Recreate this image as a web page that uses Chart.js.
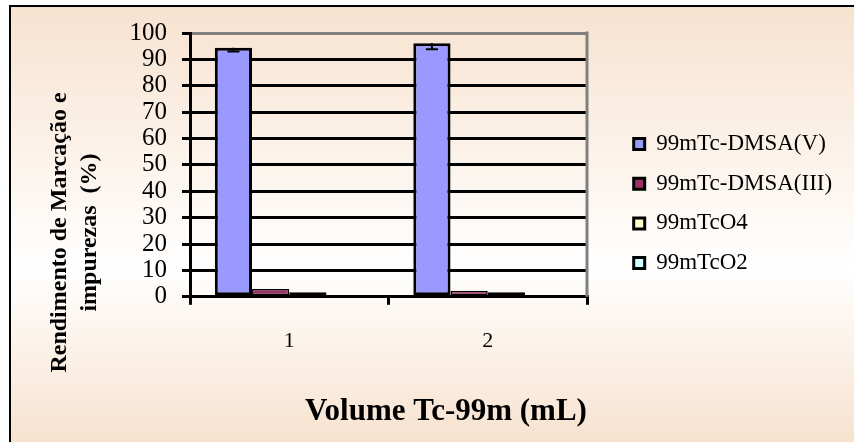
<!DOCTYPE html>
<html>
<head>
<meta charset="utf-8">
<script src="https://cdn.jsdelivr.net/npm/chart.js@4.4.1/dist/chart.umd.min.js"></script>
<style>
  html, body { margin: 0; padding: 0; background: #fff; }
</style>
</head>
<body>
<canvas id="grafico" width="854" height="442"></canvas>
<script>
const categorias = ['1', '2'];
const dmsaV = [94.4, 96.1];
const dmsaVErro = [1.4, 2.3];
const dmsaIII = [3.0, 2.3];
const tcO4 = [1.7, 1.7];
const tcO2 = [0.5, 0.5];
const rotulos = ['99mTc-DMSA(V)', '99mTc-DMSA(III)', '99mTcO4', '99mTcO2'];
const cores = ['#9999FF', '#993366', '#FFFFCC', '#CCFFFF'];
const tituloEixoY = ['Rendimento de Marcação e', 'impurezas  (%)'];
const tituloEixoX = 'Volume Tc-99m (mL)';

Chart.defaults.font.family = "'Liberation Serif', 'Times New Roman', serif";
Chart.defaults.color = '#000';

// fundo em degradê com moldura
const fundo = {
  id: 'fundo',
  beforeDraw(chart) {
    const ctx = chart.ctx;
    ctx.save();
    ctx.fillStyle = '#fff';
    ctx.fillRect(0, 0, chart.width, chart.height);
    const g = ctx.createLinearGradient(0, 6, 0, chart.height);
    g.addColorStop(0, '#F7E2CF');
    g.addColorStop(0.6, '#FFFFFF');
    g.addColorStop(1, '#F7E2CF');
    ctx.fillStyle = g;
    ctx.fillRect(10, 6, chart.width - 10, chart.height - 6);
    ctx.strokeStyle = '#000';
    ctx.lineWidth = 2;
    ctx.beginPath();
    ctx.moveTo(10, chart.height);
    ctx.lineTo(10, 6);
    ctx.lineTo(chart.width, 6);
    ctx.stroke();
    ctx.restore();
  }
};

// afasta a legenda da área do gráfico e centraliza o título do eixo x
const posicoes = {
  id: 'posicoes',
  afterLayout(chart) {
    const lg = chart.legend;
    lg.left = chart.chartArea.right + 30;
    lg.right = chart.width;
    lg.width = lg.right - lg.left;
    const t = chart.titleBlock;
    const w = t.right - t.left;
    t.left = 446 - w / 2;
    t.right = 446 + w / 2;
  }
};

// título do eixo y, centrado na altura abaixo do topo do gráfico (como no Excel)
const tituloY = {
  id: 'tituloY',
  afterDraw(chart) {
    const {ctx, chartArea} = chart;
    const x0 = chart.scales.y.left;
    const yc = (chartArea.top + chart.height) / 2 - 5;
    ctx.save();
    ctx.font = "bold 24px 'Liberation Serif', serif";
    ctx.fillStyle = '#000';
    ctx.textAlign = 'center';
    ctx.translate(x0, yc);
    ctx.rotate(-Math.PI / 2);
    tituloEixoY.forEach((linha, i) => ctx.fillText(linha, 0, 22 + i * 30));
    ctx.restore();
  }
};

// borda cinza à direita da área do gráfico
const bordaDireita = {
  id: 'bordaDireita',
  beforeDatasetsDraw(chart) {
    const {ctx, chartArea} = chart;
    ctx.save();
    ctx.strokeStyle = '#808080';
    ctx.lineWidth = 3;
    ctx.beginPath();
    ctx.moveTo(chartArea.right, chartArea.top - 1.5);
    ctx.lineTo(chartArea.right, chartArea.bottom);
    ctx.stroke();
    ctx.restore();
  }
};

// barras de erro (só para baixo) da primeira série
const barrasErro = {
  id: 'barrasErro',
  afterDatasetsDraw(chart) {
    const ctx = chart.ctx;
    const y = chart.scales.y;
    const meta = chart.getDatasetMeta(0);
    ctx.save();
    ctx.strokeStyle = '#000';
    ctx.lineWidth = 2;
    meta.data.forEach((bar, i) => {
      const y0 = y.getPixelForValue(dmsaV[i]);
      const y1 = y.getPixelForValue(dmsaV[i] - dmsaVErro[i]);
      ctx.beginPath();
      ctx.moveTo(bar.x, y0);
      ctx.lineTo(bar.x, y1);
      ctx.moveTo(bar.x - 6, y1);
      ctx.lineTo(bar.x + 6, y1);
      ctx.stroke();
    });
    ctx.restore();
  }
};

const series = [dmsaV, dmsaIII, tcO4, tcO2];

new Chart(document.getElementById('grafico'), {
  type: 'bar',
  data: {
    labels: categorias,
    datasets: series.map((dados, i) => ({
      label: rotulos[i],
      data: dados,
      backgroundColor: cores[i],
      borderColor: '#000',
      borderWidth: i === 0 ? 3 : 1.5,
      borderSkipped: false,
      categoryPercentage: 0.75,
      barPercentage: 1.0
    }))
  },
  options: {
    responsive: false,
    animation: false,
    layout: {
      padding: { left: 44, right: 117, top: 33, bottom: 11 }
    },
    plugins: {
      legend: {
        position: 'right',
        align: 'start',
        maxWidth: 150,
        title: {
          display: true,
          text: '',
          padding: { top: 0, bottom: 68.4 },
          font: { size: 12 }
        },
        labels: {
          boxWidth: 11,
          boxHeight: 11,
          padding: 16.7,
          color: '#000',
          font: { size: 23 },
          generateLabels(chart) {
            return Chart.defaults.plugins.legend.labels.generateLabels(chart)
              .map(item => Object.assign(item, { lineWidth: 3 }));
          }
        }
      },
      title: {
        display: true,
        position: 'bottom',
        text: tituloEixoX,
        color: '#000',
        padding: 0,
        font: { size: 31, weight: 'bold' }
      },
      tooltip: { enabled: false }
    },
    scales: {
      x: {
        ticks: { color: '#000', font: { size: 22 }, padding: 23 },
        grid: { drawOnChartArea: false, color: '#000', lineWidth: 3, tickLength: 8 },
        border: { color: '#000', width: 3 },
        afterFit(s) { s.height = 97; }
      },
      y: {
        min: 0,
        max: 100,
        ticks: { stepSize: 10, autoSkip: false, color: '#000', font: { size: 25 }, padding: 15 },
        grid: {
          color: c => (c.tick && c.tick.value === 100) ? '#808080' : '#000',
          tickColor: '#000',
          lineWidth: 3,
          tickLength: 8
        },
        border: { color: '#000', width: 3 },
        afterFit(s) { s.width = 146; }
      }
    }
  },
  plugins: [fundo, posicoes, tituloY, bordaDireita, barrasErro]
});
</script>
</body>
</html>
